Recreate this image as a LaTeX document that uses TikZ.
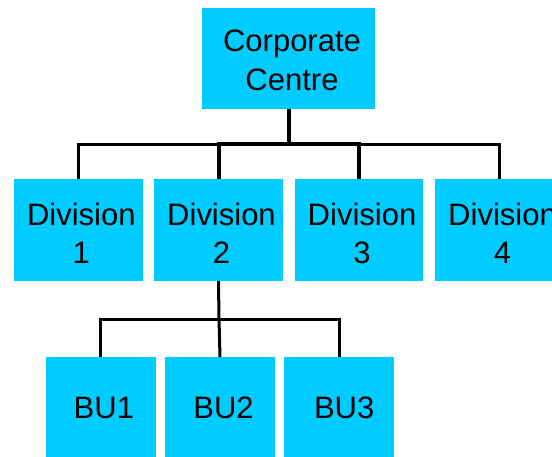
\documentclass[tikz,border=0pt]{standalone}
\usepackage{fontspec}
\setmainfont{Liberation Sans}
\definecolor{boxcyan}{RGB}{0,204,255}
\begin{document}
\begin{tikzpicture}[x=1pt,y=-1pt,
  unit/.style={fill=boxcyan,draw=none,inner sep=0pt,minimum height=101.4pt},
  caption/.style={font=\fontsize{31}{38.5}\selectfont,align=center,inner sep=0pt},
  link/.style={line width=3pt},
  trunk/.style={line width=4pt}]
\useasboundingbox (0,0) rectangle (552,456);
\clip (0,0) rectangle (552,456);

% top level
\node[unit,minimum width=173pt,label={[caption,xshift=3.5pt,yshift=-2pt]center:Corporate\\Centre}] (corp) at (288.5,58.3) {};

% divisions
\node[unit,minimum width=128.7pt,label={[caption,xshift=3pt,yshift=-3.5pt]center:Division\\1}] (div1) at (78.3,230) {};
\node[unit,minimum width=129pt,label={[caption,xshift=3pt,yshift=-3.5pt]center:Division\\2}] (div2) at (218.5,230) {};
\node[unit,minimum width=128.6pt,label={[caption,xshift=3pt,yshift=-3.5pt]center:Division\\3}] (div3) at (359,230) {};
\node[unit,minimum width=129pt,label={[caption,xshift=3pt,yshift=-3.5pt]center:Division\\4}] (div4) at (499.5,230) {};

% business units under division 2
\node[unit,minimum width=110pt,label={[caption,xshift=3pt]center:BU1}] (bu1) at (100.9,408) {};
\node[unit,minimum width=110pt,label={[caption,xshift=3.5pt]center:BU2}] (bu2) at (220,408) {};
\node[unit,minimum width=110pt,label={[caption,xshift=5pt]center:BU3}] (bu3) at (339.2,408) {};

% connectors
\coordinate (topbus) at (288.5,144);
\coordinate (bubus) at (219,319);
\draw[trunk] (corp.south) -- (topbus);
\draw[link] (div1.north) |- (topbus);
\draw[link] (div4.north) |- (topbus);
\draw[trunk] (div2.north) |- (topbus);
\draw[trunk] (div3.north) |- (topbus);
\draw[link] (div2.south) -- (bubus);
\draw[link] (bu1.north) |- (bubus);
\draw[link] (bu2.north) -- (bubus);
\draw[link] (bu3.north) |- (bubus);
\end{tikzpicture}
\end{document}
